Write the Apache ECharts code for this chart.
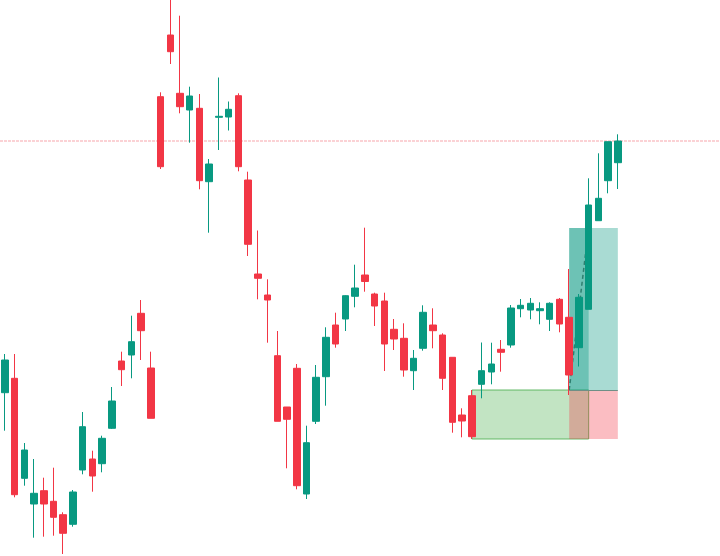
<!DOCTYPE html>
<html>
<head>
<meta charset="utf-8">
<script src="https://cdn.jsdelivr.net/npm/echarts@6/dist/echarts.min.js"></script>
<style>
html,body{margin:0;padding:0;background:#ffffff;}
#chart{width:720px;height:556px;}
</style>
</head>
<body>
<div id="chart"></div>
<script>
// ---- data (price units) ----
var categories = [];
for (var k = 0; k < 74; k++) { categories.push(String(k)); }

var opens = [163.3,177.7,77.7,52,65.3,54.7,41.3,31.7,86,97,92.3,127.7,195,201,242.7,188,
  459.3,521,462.7,446,447.7,374.3,438.7,439,460.3,376,282,261,200.3,149,187.7,62,
  134.7,179.3,231,237,259.7,281,262,255,226.7,217.7,185.3,207.7,231,221,198.7,141,
  160.3,171.7,184,206.7,211,247.3,246,245.3,236.7,256.7,238.7,208.3,246.7,335.3,375.3,393.3];
var closes = [196,61.3,106,62.7,52,38.7,22.7,64,129.3,80,117.7,155,186.3,214.3,225.3,137.7,
  389.3,504.3,449.3,460,375.3,392,439.7,446.7,389.3,311.7,277.7,256,134.7,136.7,70.3,113.3,
  178.7,218.7,212,260.3,268,274.5,250,212,217,186,197.7,243.7,225.3,177.7,133.7,135,
  119.3,185.3,192,203.7,248,250.7,252.7,247.3,252.7,232,181,258.7,351,357.7,414.3,415];
var lows = [125.3,58.7,70.3,18.3,19.3,20.3,2,29.3,81.7,64.3,83.7,127,170,177.7,196,137.7,
  387,492,442.7,413.3,366.7,323.3,406,425.5,384.7,300,256.7,213.3,134.7,87.7,66.7,57,
  132,150.3,208.3,225,248.7,264.3,230,185,206,179.3,166,205.3,207.7,166,123.3,118.7,
  117,157.7,171.7,184.3,208.3,238.7,236.7,231.7,225,223.7,161,189.5,246.7,335.3,362.7,367];
var highs = [202,202,113,97,78.3,88.3,43.7,66,144,105.3,120.3,169,204.3,240.3,256,204.3,
  463.7,560,540.3,469.3,462,397,478.5,454.5,462.7,384.3,325.5,276.7,225,149,192,130.3,
  191,228.7,243.3,260.7,291.3,328.3,263.3,263.3,237,232.7,206,250.7,247.7,222.7,198.7,147.7,
  166,213.5,213.3,216,251,257,258,253.7,253.7,258,287,262,377.7,402.7,414.3,421.7];

// reference levels and zones
var levelLine = 415;
var entryPrice = 166, targetPrice = 328, stopPrice = 117;
var zoneStart = '48', entryIdx = '58', targetHitIdx = '60', toolEnd = '63';

var candleData = opens.map(function (o, i) { return [o, closes[i], lows[i], highs[i]]; });

var chart = echarts.init(document.getElementById('chart'), null, {renderer: 'canvas'});
chart.setOption({
  animation: false,
  backgroundColor: '#ffffff',
  grid: {left: 0, right: 0, top: 0, bottom: 0},
  xAxis: [
    {type: 'category', data: categories, boundaryGap: true, show: false},
    {type: 'value', min: 0, max: 1, show: false, splitLine: {show: false}}
  ],
  yAxis: {type: 'value', min: 0, max: 556, show: false, splitLine: {show: false}},
  series: [
    {
      type: 'line',
      z: 1,
      data: [],
      silent: true,
      markArea: {
        silent: true,
        data: [
          [{xAxis: zoneStart, yAxis: stopPrice,
            itemStyle: {color: 'rgba(76,175,80,0.34)', borderColor: 'rgba(76,175,80,0.85)', borderWidth: 1}},
           {xAxis: targetHitIdx, yAxis: entryPrice}],
          [{xAxis: entryIdx, yAxis: entryPrice, itemStyle: {color: 'rgba(8,153,129,0.35)'}},
           {xAxis: toolEnd, yAxis: targetPrice}],
          [{xAxis: entryIdx, yAxis: entryPrice, itemStyle: {color: 'rgba(8,153,129,0.37)'}},
           {xAxis: targetHitIdx, yAxis: targetPrice}],
          [{xAxis: entryIdx, yAxis: stopPrice, itemStyle: {color: 'rgba(242,54,69,0.33)'}},
           {xAxis: toolEnd, yAxis: entryPrice}]
        ]
      },
      markLine: {
        silent: true,
        symbol: ['none', 'none'],
        label: {show: false},
        data: [
          [{coord: [entryIdx, entryPrice], lineStyle: {color: '#6f8f86', width: 1, type: 'solid'}},
           {coord: [toolEnd, entryPrice]}],
          [{coord: [entryIdx, entryPrice], lineStyle: {color: '#2f7f70', width: 1.5, type: [4, 3]}},
           {coord: [targetHitIdx, targetPrice]}]
        ]
      }
    },
    {
      type: 'line',
      xAxisIndex: 1,
      z: 2,
      silent: true,
      symbol: 'none',
      data: [[0, levelLine], [1, levelLine]],
      lineStyle: {color: '#f7a5ab', width: 1, type: [3, 1]}
    },
    {
      type: 'candlestick',
      z: 5,
      data: candleData,
      barWidth: 7,
      itemStyle: {
        color: '#089981', color0: '#f23645',
        borderColor: '#089981', borderColor0: '#f23645', borderWidth: 1
      }
    }
  ]
});
</script>
</body>
</html>
